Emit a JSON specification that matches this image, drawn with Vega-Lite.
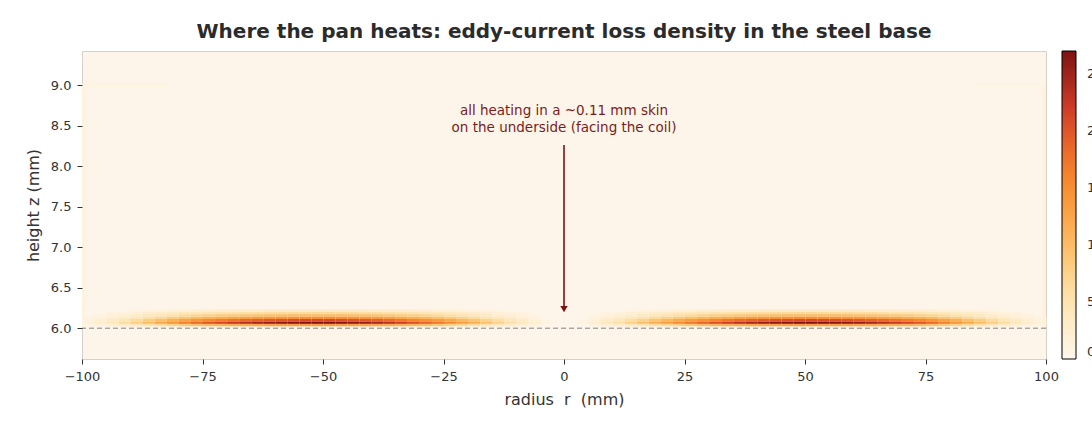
{
  "$schema": "https://vega.github.io/schema/vega-lite/v6.json",
  "width": 964,
  "height": 308,
  "autosize": {"type": "none"},
  "padding": {"left": 82, "top": 51, "right": 46, "bottom": 70},
  "background": "white",
  "title": {
    "text": "Where the pan heats: eddy-current loss density in the steel base",
    "fontSize": 20,
    "fontWeight": "bold",
    "color": "#2b2b2b",
    "anchor": "middle",
    "offset": 9
  },
  "config": {
    "font": "DejaVu Sans",
    "view": {"fill": "#fdf5e9", "stroke": "#d8d0c6", "strokeWidth": 1},
    "axis": {
      "domain": false,
      "grid": false,
      "labelColor": "#333333",
      "labelFontSize": 13,
      "labelFlush": false,
      "labelPadding": 6,
      "tickColor": "#333333",
      "tickSize": 5,
      "tickWidth": 1,
      "titleColor": "#333333",
      "titleFontSize": 16,
      "titleFontWeight": "normal"
    }
  },
  "datasets": {
    "loss": [
      {"r":-100,"z":6.03,"v":0.9},{"r":-100,"z":6.06,"v":1.7},{"r":-100,"z":6.09,"v":1.3},{"r":-100,"z":6.12,"v":1.0},
      {"r":-97.5,"z":6.03,"v":1.5},{"r":-97.5,"z":6.06,"v":2.9},{"r":-97.5,"z":6.09,"v":2.3},{"r":-97.5,"z":6.12,"v":1.6},{"r":-97.5,"z":6.15,"v":1.1},
      {"r":-95,"z":6.03,"v":2.2},{"r":-95,"z":6.06,"v":4.4},{"r":-95,"z":6.09,"v":3.4},{"r":-95,"z":6.12,"v":2.5},{"r":-95,"z":6.15,"v":1.7},{"r":-95,"z":6.18,"v":1.1},
      {"r":-92.5,"z":6.03,"v":3.1},{"r":-92.5,"z":6.06,"v":6.2},{"r":-92.5,"z":6.09,"v":4.8},{"r":-92.5,"z":6.12,"v":3.5},{"r":-92.5,"z":6.15,"v":2.4},{"r":-92.5,"z":6.18,"v":1.5},
      {"r":-90,"z":6.03,"v":4.1},{"r":-90,"z":6.06,"v":8.1},{"r":-90,"z":6.09,"v":6.3},{"r":-90,"z":6.12,"v":4.5},{"r":-90,"z":6.15,"v":3.1},{"r":-90,"z":6.18,"v":1.9},{"r":-90,"z":6.21,"v":1.0},
      {"r":-87.5,"z":6.03,"v":5.2},{"r":-87.5,"z":6.06,"v":10.3},{"r":-87.5,"z":6.09,"v":8.0},{"r":-87.5,"z":6.12,"v":5.8},{"r":-87.5,"z":6.15,"v":3.9},{"r":-87.5,"z":6.18,"v":2.5},{"r":-87.5,"z":6.21,"v":1.2},
      {"r":-85,"z":6.03,"v":6.2},{"r":-85,"z":6.06,"v":12.4},{"r":-85,"z":6.09,"v":9.7},{"r":-85,"z":6.12,"v":6.9},{"r":-85,"z":6.15,"v":4.7},{"r":-85,"z":6.18,"v":3.0},{"r":-85,"z":6.21,"v":1.5},
      {"r":-82.5,"z":6.03,"v":7.3},{"r":-82.5,"z":6.06,"v":14.6},{"r":-82.5,"z":6.09,"v":11.4},{"r":-82.5,"z":6.12,"v":8.2},{"r":-82.5,"z":6.15,"v":5.5},{"r":-82.5,"z":6.18,"v":3.5},{"r":-82.5,"z":6.21,"v":1.8},
      {"r":-80,"z":6.03,"v":8.3},{"r":-80,"z":6.06,"v":16.6},{"r":-80,"z":6.09,"v":12.9},{"r":-80,"z":6.12,"v":9.3},{"r":-80,"z":6.15,"v":6.3},{"r":-80,"z":6.18,"v":4.0},{"r":-80,"z":6.21,"v":2.0},
      {"r":-77.5,"z":6.03,"v":9.3},{"r":-77.5,"z":6.06,"v":18.5},{"r":-77.5,"z":6.09,"v":14.4},{"r":-77.5,"z":6.12,"v":10.4},{"r":-77.5,"z":6.15,"v":7.0},{"r":-77.5,"z":6.18,"v":4.4},{"r":-77.5,"z":6.21,"v":2.2},
      {"r":-75,"z":6.03,"v":10.1},{"r":-75,"z":6.06,"v":20.1},{"r":-75,"z":6.09,"v":15.7},{"r":-75,"z":6.12,"v":11.3},{"r":-75,"z":6.15,"v":7.6},{"r":-75,"z":6.18,"v":4.8},{"r":-75,"z":6.21,"v":2.4},
      {"r":-72.5,"z":6.03,"v":10.8},{"r":-72.5,"z":6.06,"v":21.5},{"r":-72.5,"z":6.09,"v":16.8},{"r":-72.5,"z":6.12,"v":12.0},{"r":-72.5,"z":6.15,"v":8.2},{"r":-72.5,"z":6.18,"v":5.2},{"r":-72.5,"z":6.21,"v":2.6},
      {"r":-70,"z":6.03,"v":11.4},{"r":-70,"z":6.06,"v":22.7},{"r":-70,"z":6.09,"v":17.7},{"r":-70,"z":6.12,"v":12.7},{"r":-70,"z":6.15,"v":8.6},{"r":-70,"z":6.18,"v":5.4},{"r":-70,"z":6.21,"v":2.7},
      {"r":-67.5,"z":6.03,"v":11.9},{"r":-67.5,"z":6.06,"v":23.8},{"r":-67.5,"z":6.09,"v":18.6},{"r":-67.5,"z":6.12,"v":13.3},{"r":-67.5,"z":6.15,"v":9.0},{"r":-67.5,"z":6.18,"v":5.7},{"r":-67.5,"z":6.21,"v":2.9},
      {"r":-65,"z":6.03,"v":12.4},{"r":-65,"z":6.06,"v":24.7},{"r":-65,"z":6.09,"v":19.3},{"r":-65,"z":6.12,"v":13.8},{"r":-65,"z":6.15,"v":9.4},{"r":-65,"z":6.18,"v":5.9},{"r":-65,"z":6.21,"v":3.0},
      {"r":-62.5,"z":6.03,"v":12.8},{"r":-62.5,"z":6.06,"v":25.5},{"r":-62.5,"z":6.09,"v":19.9},{"r":-62.5,"z":6.12,"v":14.3},{"r":-62.5,"z":6.15,"v":9.7},{"r":-62.5,"z":6.18,"v":6.1},{"r":-62.5,"z":6.21,"v":3.1},
      {"r":-60,"z":6.03,"v":13.1},{"r":-60,"z":6.06,"v":26.1},{"r":-60,"z":6.09,"v":20.4},{"r":-60,"z":6.12,"v":14.6},{"r":-60,"z":6.15,"v":9.9},{"r":-60,"z":6.18,"v":6.3},{"r":-60,"z":6.21,"v":3.1},
      {"r":-57.5,"z":6.03,"v":13.3},{"r":-57.5,"z":6.06,"v":26.5},{"r":-57.5,"z":6.09,"v":20.7},{"r":-57.5,"z":6.12,"v":14.8},{"r":-57.5,"z":6.15,"v":10.1},{"r":-57.5,"z":6.18,"v":6.4},{"r":-57.5,"z":6.21,"v":3.2},
      {"r":-55,"z":6.03,"v":13.4},{"r":-55,"z":6.06,"v":26.8},{"r":-55,"z":6.09,"v":20.9},{"r":-55,"z":6.12,"v":15.0},{"r":-55,"z":6.15,"v":10.2},{"r":-55,"z":6.18,"v":6.4},{"r":-55,"z":6.21,"v":3.2},
      {"r":-52.5,"z":6.03,"v":13.5},{"r":-52.5,"z":6.06,"v":26.9},{"r":-52.5,"z":6.09,"v":21.0},{"r":-52.5,"z":6.12,"v":15.1},{"r":-52.5,"z":6.15,"v":10.2},{"r":-52.5,"z":6.18,"v":6.5},{"r":-52.5,"z":6.21,"v":3.2},
      {"r":-50,"z":6.03,"v":13.5},{"r":-50,"z":6.06,"v":26.9},{"r":-50,"z":6.09,"v":21.0},{"r":-50,"z":6.12,"v":15.1},{"r":-50,"z":6.15,"v":10.2},{"r":-50,"z":6.18,"v":6.5},{"r":-50,"z":6.21,"v":3.2},
      {"r":-47.5,"z":6.03,"v":13.3},{"r":-47.5,"z":6.06,"v":26.6},{"r":-47.5,"z":6.09,"v":20.7},{"r":-47.5,"z":6.12,"v":14.9},{"r":-47.5,"z":6.15,"v":10.1},{"r":-47.5,"z":6.18,"v":6.4},{"r":-47.5,"z":6.21,"v":3.2},
      {"r":-45,"z":6.03,"v":13.1},{"r":-45,"z":6.06,"v":26.1},{"r":-45,"z":6.09,"v":20.4},{"r":-45,"z":6.12,"v":14.6},{"r":-45,"z":6.15,"v":9.9},{"r":-45,"z":6.18,"v":6.3},{"r":-45,"z":6.21,"v":3.1},
      {"r":-42.5,"z":6.03,"v":12.8},{"r":-42.5,"z":6.06,"v":25.5},{"r":-42.5,"z":6.09,"v":19.9},{"r":-42.5,"z":6.12,"v":14.3},{"r":-42.5,"z":6.15,"v":9.7},{"r":-42.5,"z":6.18,"v":6.1},{"r":-42.5,"z":6.21,"v":3.1},
      {"r":-40,"z":6.03,"v":12.3},{"r":-40,"z":6.06,"v":24.6},{"r":-40,"z":6.09,"v":19.2},{"r":-40,"z":6.12,"v":13.8},{"r":-40,"z":6.15,"v":9.3},{"r":-40,"z":6.18,"v":5.9},{"r":-40,"z":6.21,"v":3.0},
      {"r":-37.5,"z":6.03,"v":11.8},{"r":-37.5,"z":6.06,"v":23.5},{"r":-37.5,"z":6.09,"v":18.3},{"r":-37.5,"z":6.12,"v":13.2},{"r":-37.5,"z":6.15,"v":8.9},{"r":-37.5,"z":6.18,"v":5.6},{"r":-37.5,"z":6.21,"v":2.8},
      {"r":-35,"z":6.03,"v":11.1},{"r":-35,"z":6.06,"v":22.2},{"r":-35,"z":6.09,"v":17.3},{"r":-35,"z":6.12,"v":12.4},{"r":-35,"z":6.15,"v":8.4},{"r":-35,"z":6.18,"v":5.3},{"r":-35,"z":6.21,"v":2.7},
      {"r":-32.5,"z":6.03,"v":10.4},{"r":-32.5,"z":6.06,"v":20.7},{"r":-32.5,"z":6.09,"v":16.1},{"r":-32.5,"z":6.12,"v":11.6},{"r":-32.5,"z":6.15,"v":7.9},{"r":-32.5,"z":6.18,"v":5.0},{"r":-32.5,"z":6.21,"v":2.5},
      {"r":-30,"z":6.03,"v":9.6},{"r":-30,"z":6.06,"v":19.1},{"r":-30,"z":6.09,"v":14.9},{"r":-30,"z":6.12,"v":10.7},{"r":-30,"z":6.15,"v":7.3},{"r":-30,"z":6.18,"v":4.6},{"r":-30,"z":6.21,"v":2.3},
      {"r":-27.5,"z":6.03,"v":8.7},{"r":-27.5,"z":6.06,"v":17.4},{"r":-27.5,"z":6.09,"v":13.6},{"r":-27.5,"z":6.12,"v":9.7},{"r":-27.5,"z":6.15,"v":6.6},{"r":-27.5,"z":6.18,"v":4.2},{"r":-27.5,"z":6.21,"v":2.1},
      {"r":-25,"z":6.03,"v":7.8},{"r":-25,"z":6.06,"v":15.5},{"r":-25,"z":6.09,"v":12.1},{"r":-25,"z":6.12,"v":8.7},{"r":-25,"z":6.15,"v":5.9},{"r":-25,"z":6.18,"v":3.7},{"r":-25,"z":6.21,"v":1.9},
      {"r":-22.5,"z":6.03,"v":6.8},{"r":-22.5,"z":6.06,"v":13.6},{"r":-22.5,"z":6.09,"v":10.6},{"r":-22.5,"z":6.12,"v":7.6},{"r":-22.5,"z":6.15,"v":5.2},{"r":-22.5,"z":6.18,"v":3.3},{"r":-22.5,"z":6.21,"v":1.6},
      {"r":-20,"z":6.03,"v":5.9},{"r":-20,"z":6.06,"v":11.7},{"r":-20,"z":6.09,"v":9.1},{"r":-20,"z":6.12,"v":6.6},{"r":-20,"z":6.15,"v":4.4},{"r":-20,"z":6.18,"v":2.8},{"r":-20,"z":6.21,"v":1.4},
      {"r":-17.5,"z":6.03,"v":4.8},{"r":-17.5,"z":6.06,"v":9.6},{"r":-17.5,"z":6.09,"v":7.5},{"r":-17.5,"z":6.12,"v":5.4},{"r":-17.5,"z":6.15,"v":3.6},{"r":-17.5,"z":6.18,"v":2.3},{"r":-17.5,"z":6.21,"v":1.2},
      {"r":-15,"z":6.03,"v":3.9},{"r":-15,"z":6.06,"v":7.7},{"r":-15,"z":6.09,"v":6.0},{"r":-15,"z":6.12,"v":4.3},{"r":-15,"z":6.15,"v":2.9},{"r":-15,"z":6.18,"v":1.8},{"r":-15,"z":6.21,"v":0.9},
      {"r":-12.5,"z":6.03,"v":2.9},{"r":-12.5,"z":6.06,"v":5.8},{"r":-12.5,"z":6.09,"v":4.5},{"r":-12.5,"z":6.12,"v":3.2},{"r":-12.5,"z":6.15,"v":2.2},{"r":-12.5,"z":6.18,"v":1.4},
      {"r":-10,"z":6.03,"v":2.1},{"r":-10,"z":6.06,"v":4.1},{"r":-10,"z":6.09,"v":3.2},{"r":-10,"z":6.12,"v":2.3},{"r":-10,"z":6.15,"v":1.6},{"r":-10,"z":6.18,"v":1.0},
      {"r":-7.5,"z":6.03,"v":1.2},{"r":-7.5,"z":6.06,"v":2.4},{"r":-7.5,"z":6.09,"v":1.9},{"r":-7.5,"z":6.12,"v":1.3},{"r":-7.5,"z":6.15,"v":0.9},
      {"r":-5,"z":6.06,"v":1.2},{"r":-5,"z":6.09,"v":0.9},
      {"r":2.5,"z":6.06,"v":1.2},{"r":2.5,"z":6.09,"v":0.9},
      {"r":5,"z":6.03,"v":1.2},{"r":5,"z":6.06,"v":2.4},{"r":5,"z":6.09,"v":1.9},{"r":5,"z":6.12,"v":1.3},{"r":5,"z":6.15,"v":0.9},
      {"r":7.5,"z":6.03,"v":2.1},{"r":7.5,"z":6.06,"v":4.1},{"r":7.5,"z":6.09,"v":3.2},{"r":7.5,"z":6.12,"v":2.3},{"r":7.5,"z":6.15,"v":1.6},{"r":7.5,"z":6.18,"v":1.0},
      {"r":10,"z":6.03,"v":2.9},{"r":10,"z":6.06,"v":5.8},{"r":10,"z":6.09,"v":4.5},{"r":10,"z":6.12,"v":3.2},{"r":10,"z":6.15,"v":2.2},{"r":10,"z":6.18,"v":1.4},
      {"r":12.5,"z":6.03,"v":3.9},{"r":12.5,"z":6.06,"v":7.7},{"r":12.5,"z":6.09,"v":6.0},{"r":12.5,"z":6.12,"v":4.3},{"r":12.5,"z":6.15,"v":2.9},{"r":12.5,"z":6.18,"v":1.8},{"r":12.5,"z":6.21,"v":0.9},
      {"r":15,"z":6.03,"v":4.8},{"r":15,"z":6.06,"v":9.6},{"r":15,"z":6.09,"v":7.5},{"r":15,"z":6.12,"v":5.4},{"r":15,"z":6.15,"v":3.6},{"r":15,"z":6.18,"v":2.3},{"r":15,"z":6.21,"v":1.2},
      {"r":17.5,"z":6.03,"v":5.9},{"r":17.5,"z":6.06,"v":11.7},{"r":17.5,"z":6.09,"v":9.1},{"r":17.5,"z":6.12,"v":6.6},{"r":17.5,"z":6.15,"v":4.4},{"r":17.5,"z":6.18,"v":2.8},{"r":17.5,"z":6.21,"v":1.4},
      {"r":20,"z":6.03,"v":6.8},{"r":20,"z":6.06,"v":13.6},{"r":20,"z":6.09,"v":10.6},{"r":20,"z":6.12,"v":7.6},{"r":20,"z":6.15,"v":5.2},{"r":20,"z":6.18,"v":3.3},{"r":20,"z":6.21,"v":1.6},
      {"r":22.5,"z":6.03,"v":7.8},{"r":22.5,"z":6.06,"v":15.5},{"r":22.5,"z":6.09,"v":12.1},{"r":22.5,"z":6.12,"v":8.7},{"r":22.5,"z":6.15,"v":5.9},{"r":22.5,"z":6.18,"v":3.7},{"r":22.5,"z":6.21,"v":1.9},
      {"r":25,"z":6.03,"v":8.7},{"r":25,"z":6.06,"v":17.4},{"r":25,"z":6.09,"v":13.6},{"r":25,"z":6.12,"v":9.7},{"r":25,"z":6.15,"v":6.6},{"r":25,"z":6.18,"v":4.2},{"r":25,"z":6.21,"v":2.1},
      {"r":27.5,"z":6.03,"v":9.6},{"r":27.5,"z":6.06,"v":19.1},{"r":27.5,"z":6.09,"v":14.9},{"r":27.5,"z":6.12,"v":10.7},{"r":27.5,"z":6.15,"v":7.3},{"r":27.5,"z":6.18,"v":4.6},{"r":27.5,"z":6.21,"v":2.3},
      {"r":30,"z":6.03,"v":10.4},{"r":30,"z":6.06,"v":20.7},{"r":30,"z":6.09,"v":16.1},{"r":30,"z":6.12,"v":11.6},{"r":30,"z":6.15,"v":7.9},{"r":30,"z":6.18,"v":5.0},{"r":30,"z":6.21,"v":2.5},
      {"r":32.5,"z":6.03,"v":11.1},{"r":32.5,"z":6.06,"v":22.2},{"r":32.5,"z":6.09,"v":17.3},{"r":32.5,"z":6.12,"v":12.4},{"r":32.5,"z":6.15,"v":8.4},{"r":32.5,"z":6.18,"v":5.3},{"r":32.5,"z":6.21,"v":2.7},
      {"r":35,"z":6.03,"v":11.8},{"r":35,"z":6.06,"v":23.5},{"r":35,"z":6.09,"v":18.3},{"r":35,"z":6.12,"v":13.2},{"r":35,"z":6.15,"v":8.9},{"r":35,"z":6.18,"v":5.6},{"r":35,"z":6.21,"v":2.8},
      {"r":37.5,"z":6.03,"v":12.3},{"r":37.5,"z":6.06,"v":24.6},{"r":37.5,"z":6.09,"v":19.2},{"r":37.5,"z":6.12,"v":13.8},{"r":37.5,"z":6.15,"v":9.3},{"r":37.5,"z":6.18,"v":5.9},{"r":37.5,"z":6.21,"v":3.0},
      {"r":40,"z":6.03,"v":12.8},{"r":40,"z":6.06,"v":25.5},{"r":40,"z":6.09,"v":19.9},{"r":40,"z":6.12,"v":14.3},{"r":40,"z":6.15,"v":9.7},{"r":40,"z":6.18,"v":6.1},{"r":40,"z":6.21,"v":3.1},
      {"r":42.5,"z":6.03,"v":13.1},{"r":42.5,"z":6.06,"v":26.1},{"r":42.5,"z":6.09,"v":20.4},{"r":42.5,"z":6.12,"v":14.6},{"r":42.5,"z":6.15,"v":9.9},{"r":42.5,"z":6.18,"v":6.3},{"r":42.5,"z":6.21,"v":3.1},
      {"r":45,"z":6.03,"v":13.3},{"r":45,"z":6.06,"v":26.6},{"r":45,"z":6.09,"v":20.7},{"r":45,"z":6.12,"v":14.9},{"r":45,"z":6.15,"v":10.1},{"r":45,"z":6.18,"v":6.4},{"r":45,"z":6.21,"v":3.2},
      {"r":47.5,"z":6.03,"v":13.5},{"r":47.5,"z":6.06,"v":26.9},{"r":47.5,"z":6.09,"v":21.0},{"r":47.5,"z":6.12,"v":15.1},{"r":47.5,"z":6.15,"v":10.2},{"r":47.5,"z":6.18,"v":6.5},{"r":47.5,"z":6.21,"v":3.2},
      {"r":50,"z":6.03,"v":13.5},{"r":50,"z":6.06,"v":26.9},{"r":50,"z":6.09,"v":21.0},{"r":50,"z":6.12,"v":15.1},{"r":50,"z":6.15,"v":10.2},{"r":50,"z":6.18,"v":6.5},{"r":50,"z":6.21,"v":3.2},
      {"r":52.5,"z":6.03,"v":13.4},{"r":52.5,"z":6.06,"v":26.8},{"r":52.5,"z":6.09,"v":20.9},{"r":52.5,"z":6.12,"v":15.0},{"r":52.5,"z":6.15,"v":10.2},{"r":52.5,"z":6.18,"v":6.4},{"r":52.5,"z":6.21,"v":3.2},
      {"r":55,"z":6.03,"v":13.3},{"r":55,"z":6.06,"v":26.5},{"r":55,"z":6.09,"v":20.7},{"r":55,"z":6.12,"v":14.8},{"r":55,"z":6.15,"v":10.1},{"r":55,"z":6.18,"v":6.4},{"r":55,"z":6.21,"v":3.2},
      {"r":57.5,"z":6.03,"v":13.1},{"r":57.5,"z":6.06,"v":26.1},{"r":57.5,"z":6.09,"v":20.4},{"r":57.5,"z":6.12,"v":14.6},{"r":57.5,"z":6.15,"v":9.9},{"r":57.5,"z":6.18,"v":6.3},{"r":57.5,"z":6.21,"v":3.1},
      {"r":60,"z":6.03,"v":12.8},{"r":60,"z":6.06,"v":25.5},{"r":60,"z":6.09,"v":19.9},{"r":60,"z":6.12,"v":14.3},{"r":60,"z":6.15,"v":9.7},{"r":60,"z":6.18,"v":6.1},{"r":60,"z":6.21,"v":3.1},
      {"r":62.5,"z":6.03,"v":12.4},{"r":62.5,"z":6.06,"v":24.7},{"r":62.5,"z":6.09,"v":19.3},{"r":62.5,"z":6.12,"v":13.8},{"r":62.5,"z":6.15,"v":9.4},{"r":62.5,"z":6.18,"v":5.9},{"r":62.5,"z":6.21,"v":3.0},
      {"r":65,"z":6.03,"v":11.9},{"r":65,"z":6.06,"v":23.8},{"r":65,"z":6.09,"v":18.6},{"r":65,"z":6.12,"v":13.3},{"r":65,"z":6.15,"v":9.0},{"r":65,"z":6.18,"v":5.7},{"r":65,"z":6.21,"v":2.9},
      {"r":67.5,"z":6.03,"v":11.4},{"r":67.5,"z":6.06,"v":22.7},{"r":67.5,"z":6.09,"v":17.7},{"r":67.5,"z":6.12,"v":12.7},{"r":67.5,"z":6.15,"v":8.6},{"r":67.5,"z":6.18,"v":5.4},{"r":67.5,"z":6.21,"v":2.7},
      {"r":70,"z":6.03,"v":10.8},{"r":70,"z":6.06,"v":21.5},{"r":70,"z":6.09,"v":16.8},{"r":70,"z":6.12,"v":12.0},{"r":70,"z":6.15,"v":8.2},{"r":70,"z":6.18,"v":5.2},{"r":70,"z":6.21,"v":2.6},
      {"r":72.5,"z":6.03,"v":10.1},{"r":72.5,"z":6.06,"v":20.1},{"r":72.5,"z":6.09,"v":15.7},{"r":72.5,"z":6.12,"v":11.3},{"r":72.5,"z":6.15,"v":7.6},{"r":72.5,"z":6.18,"v":4.8},{"r":72.5,"z":6.21,"v":2.4},
      {"r":75,"z":6.03,"v":9.3},{"r":75,"z":6.06,"v":18.5},{"r":75,"z":6.09,"v":14.4},{"r":75,"z":6.12,"v":10.4},{"r":75,"z":6.15,"v":7.0},{"r":75,"z":6.18,"v":4.4},{"r":75,"z":6.21,"v":2.2},
      {"r":77.5,"z":6.03,"v":8.3},{"r":77.5,"z":6.06,"v":16.6},{"r":77.5,"z":6.09,"v":12.9},{"r":77.5,"z":6.12,"v":9.3},{"r":77.5,"z":6.15,"v":6.3},{"r":77.5,"z":6.18,"v":4.0},{"r":77.5,"z":6.21,"v":2.0},
      {"r":80,"z":6.03,"v":7.3},{"r":80,"z":6.06,"v":14.6},{"r":80,"z":6.09,"v":11.4},{"r":80,"z":6.12,"v":8.2},{"r":80,"z":6.15,"v":5.5},{"r":80,"z":6.18,"v":3.5},{"r":80,"z":6.21,"v":1.8},
      {"r":82.5,"z":6.03,"v":6.2},{"r":82.5,"z":6.06,"v":12.4},{"r":82.5,"z":6.09,"v":9.7},{"r":82.5,"z":6.12,"v":6.9},{"r":82.5,"z":6.15,"v":4.7},{"r":82.5,"z":6.18,"v":3.0},{"r":82.5,"z":6.21,"v":1.5},
      {"r":85,"z":6.03,"v":5.2},{"r":85,"z":6.06,"v":10.3},{"r":85,"z":6.09,"v":8.0},{"r":85,"z":6.12,"v":5.8},{"r":85,"z":6.15,"v":3.9},{"r":85,"z":6.18,"v":2.5},{"r":85,"z":6.21,"v":1.2},
      {"r":87.5,"z":6.03,"v":4.1},{"r":87.5,"z":6.06,"v":8.1},{"r":87.5,"z":6.09,"v":6.3},{"r":87.5,"z":6.12,"v":4.5},{"r":87.5,"z":6.15,"v":3.1},{"r":87.5,"z":6.18,"v":1.9},{"r":87.5,"z":6.21,"v":1.0},
      {"r":90,"z":6.03,"v":3.1},{"r":90,"z":6.06,"v":6.2},{"r":90,"z":6.09,"v":4.8},{"r":90,"z":6.12,"v":3.5},{"r":90,"z":6.15,"v":2.4},{"r":90,"z":6.18,"v":1.5},
      {"r":92.5,"z":6.03,"v":2.2},{"r":92.5,"z":6.06,"v":4.4},{"r":92.5,"z":6.09,"v":3.4},{"r":92.5,"z":6.12,"v":2.5},{"r":92.5,"z":6.15,"v":1.7},{"r":92.5,"z":6.18,"v":1.1},
      {"r":95,"z":6.03,"v":1.5},{"r":95,"z":6.06,"v":2.9},{"r":95,"z":6.09,"v":2.3},{"r":95,"z":6.12,"v":1.6},{"r":95,"z":6.15,"v":1.1},
      {"r":97.5,"z":6.03,"v":0.9},{"r":97.5,"z":6.06,"v":1.7},{"r":97.5,"z":6.09,"v":1.3},{"r":97.5,"z":6.12,"v":1.0}
    ],
    "edges": [
      {"r":-100,"r2":-99.4,"z":6.0,"z2":9.0,"v":1.1},
      {"r":99.4,"r2":100,"z":6.0,"z2":9.0,"v":1.5},
      {"r":-100,"r2":-82,"z":8.98,"z2":9.02,"v":0.9},
      {"r":85,"r2":100,"z":8.98,"z2":9.02,"v":0.7}
    ],
    "surface": [{"z": 6.0}],
    "arrow": [{"r": 0, "z": 8.26, "z2": 6.235}],
    "head": [{"r": 0, "z": 6.235}],
    "note": [
      {"r": 0, "z": 8.68, "t": "all heating in a ~0.11 mm skin"},
      {"r": 0, "z": 8.47, "t": "on the underside (facing the coil)"}
    ]
  },
  "layer": [
    {
      "data": {"name": "loss"},
      "mark": {"type": "rect"},
      "encoding": {
        "x": {
          "field": "r",
          "type": "quantitative",
          "bin": {"binned": true, "step": 2.5},
          "scale": {"domain": [-100, 100], "nice": false, "zero": false},
          "axis": {"values": [-100, -75, -50, -25, 0, 25, 50, 75, 100], "format": "d", "title": "radius\u00a0 r\u00a0 (mm)", "titlePadding": 8}
        },
        "y": {
          "field": "z",
          "type": "quantitative",
          "bin": {"binned": true, "step": 0.03},
          "scale": {"domain": [5.62, 9.42], "nice": false, "zero": false},
          "axis": {"values": [6, 6.5, 7, 7.5, 8, 8.5, 9], "format": ".1f", "title": "height z (mm)", "titlePadding": 9}
        },
        "color": {
          "field": "v",
          "type": "quantitative",
          "scale": {
            "domain": [0, 5.4, 10.8, 16.2, 21.6, 27],
            "range": ["#fef7ec", "#fde3ad", "#fdb55a", "#f5832c", "#d4412a", "#7d1212"]
          },
          "legend": {
            "type": "gradient",
            "orient": "none",
            "legendX": 980,
            "legendY": 0,
            "direction": "vertical",
            "title": null,
            "gradientLength": 308,
            "gradientThickness": 14,
            "gradientStrokeColor": "#000000",
            "gradientStrokeWidth": 1,
            "values": [0, 5, 10, 15, 20, 25],
            "labelFontSize": 13,
            "labelColor": "#333333",
            "labelOffset": 11
          }
        }
      }
    },
    {
      "data": {"name": "edges"},
      "mark": {"type": "rect"},
      "encoding": {
        "x": {"field": "r", "type": "quantitative"},
        "x2": {"field": "r2"},
        "y": {"field": "z", "type": "quantitative"},
        "y2": {"field": "z2"},
        "color": {"field": "v", "type": "quantitative"}
      }
    },
    {
      "data": {"name": "surface"},
      "mark": {"type": "rule", "color": "#808080", "strokeWidth": 1, "strokeDash": [5, 3]},
      "encoding": {"y": {"field": "z", "type": "quantitative"}}
    },
    {
      "data": {"name": "arrow"},
      "mark": {"type": "rule", "color": "#7a1414", "strokeWidth": 1.6},
      "encoding": {
        "x": {"field": "r", "type": "quantitative"},
        "y": {"field": "z", "type": "quantitative"},
        "y2": {"field": "z2"}
      }
    },
    {
      "data": {"name": "head"},
      "mark": {"type": "point", "shape": "triangle-down", "filled": true, "size": 55, "color": "#7a1414", "opacity": 1},
      "encoding": {
        "x": {"field": "r", "type": "quantitative"},
        "y": {"field": "z", "type": "quantitative"}
      }
    },
    {
      "data": {"name": "note"},
      "mark": {"type": "text", "fontSize": 13.5, "color": "#7b1c1c", "align": "center", "baseline": "middle"},
      "encoding": {
        "x": {"field": "r", "type": "quantitative"},
        "y": {"field": "z", "type": "quantitative"},
        "text": {"field": "t"}
      }
    }
  ]
}
